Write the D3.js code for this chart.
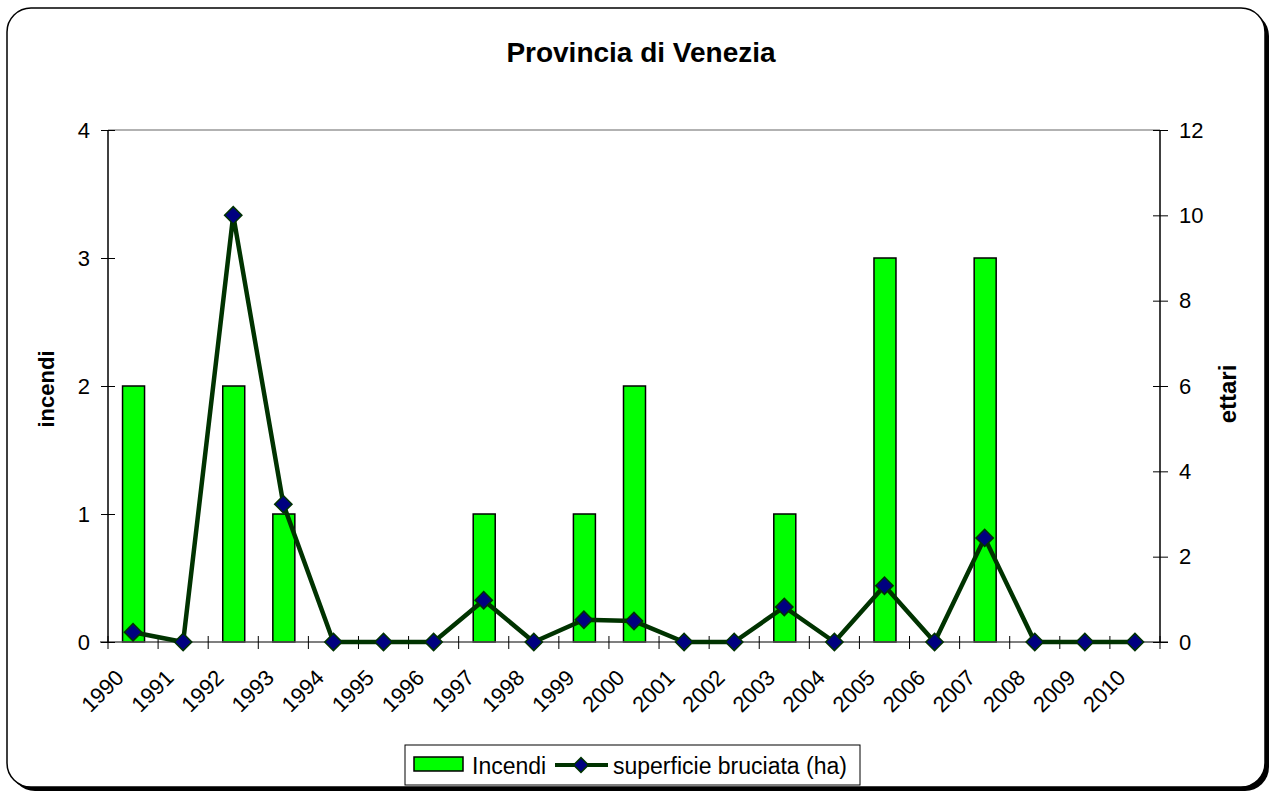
<!DOCTYPE html>
<html><head><meta charset="utf-8">
<script src="https://cdn.jsdelivr.net/npm/d3@7"></script>
<style>body{margin:0;background:#fff}svg{display:block;font-family:"Liberation Sans",Arial,sans-serif}</style>
</head><body><svg id="c" width="1272" height="794"></svg>
<script>
const years = ["1990","1991","1992","1993","1994","1995","1996","1997","1998","1999","2000","2001","2002","2003","2004","2005","2006","2007","2008","2009","2010"];
const incendi = [2,0,2,1,0,0,0,1,0,1,2,0,0,1,0,3,0,3,0,0,0];
const superficie = [0.23,0,10,3.23,0,0,0,0.98,0,0.52,0.49,0,0,0.82,0,1.32,0,2.44,0,0,0];
const leftTicks = [0,1,2,3,4];
const rightTicks = [0,2,4,6,8,10,12];

const svg = d3.select("#c");
const L=108, R=1160, T=130, B=642;

// frame with shadow
svg.append("rect").attr("x",11).attr("y",12).attr("width",1258).attr("height",779).attr("rx",24).attr("fill","#000");
svg.append("rect").attr("x",7).attr("y",8).attr("width",1258).attr("height",779).attr("rx",24).attr("fill","#fff").attr("stroke","#000").attr("stroke-width",1.5);

const x = d3.scaleBand().domain(years).range([L,R]).padding(0);
const yL = d3.scaleLinear().domain([0,4]).range([B,T]);
const yR = d3.scaleLinear().domain([0,12]).range([B,T]);

// top gridline
svg.append("line").attr("x1",L).attr("x2",R).attr("y1",yL(4)).attr("y2",yL(4)).attr("stroke","#999").attr("stroke-width",1.5);

// bars
const bw = 22;
svg.selectAll("rect.bar").data(years.map((y,i)=>({y,v:incendi[i]})).filter(d=>d.v>0)).enter()
 .append("rect").attr("class","bar")
 .attr("x",d=>x(d.y)+x.bandwidth()/2-bw/2+0.5).attr("width",bw)
 .attr("y",d=>yL(d.v)).attr("height",d=>B-yL(d.v))
 .attr("fill","#00ff00").attr("stroke","#000").attr("stroke-width",1.5);

// x axis line
svg.append("line").attr("x1",L-8).attr("x2",R+8).attr("y1",B).attr("y2",B).attr("stroke","#555").attr("stroke-width",1.5);
// x ticks (at band boundaries)
const bounds = years.map(y=>x(y)).concat([R]);
svg.selectAll("line.xt").data(bounds).enter().append("line")
 .attr("x1",d=>d).attr("x2",d=>d).attr("y1",B-6).attr("y2",B+7).attr("stroke","#000").attr("stroke-width",1);

// left axis
const gl = svg.append("g").attr("transform",`translate(${L},0)`).call(d3.axisLeft(yL).tickValues(leftTicks).tickSize(7).tickPadding(10).tickFormat(d3.format("d")));
gl.select(".domain").remove();
gl.append("line").attr("y1",T).attr("y2",B).attr("stroke","#000").attr("stroke-width",1.5);
gl.selectAll(".tick line").attr("x1",7).attr("x2",-7).attr("stroke","#000");
gl.selectAll(".tick text").attr("font-size",22).attr("fill","#000").attr("font-family","Liberation Sans, Arial, sans-serif").attr("x",-18);

// right axis
const gr = svg.append("g").attr("transform",`translate(${R},0)`).call(d3.axisRight(yR).tickValues(rightTicks).tickSize(7).tickPadding(10).tickFormat(d3.format("d")));
gr.select(".domain").remove();
gr.append("line").attr("y1",T).attr("y2",B).attr("stroke","#000").attr("stroke-width",1.5);
gr.selectAll(".tick line").attr("x1",-7).attr("x2",8).attr("stroke","#000");
gr.selectAll(".tick text").attr("font-size",22).attr("fill","#000").attr("font-family","Liberation Sans, Arial, sans-serif").attr("x",19);

// x labels
svg.selectAll("text.xl").data(years).enter().append("text")
 .attr("transform",d=>`translate(${x(d)+x.bandwidth()/2-8},${B+37}) rotate(-45)`)
 .attr("text-anchor","end").attr("font-size",22).text(d=>d);

// line
const pts = years.map((y,i)=>[x(y)+x.bandwidth()/2, yR(superficie[i])]);
svg.append("path").attr("d",d3.line()(pts)).attr("fill","none").attr("stroke","#003300").attr("stroke-width",4.5).attr("stroke-linejoin","round");
svg.selectAll("path.mk").data(pts).enter().append("path")
 .attr("d",d3.symbol().type(d3.symbolSquare).size(150))
 .attr("transform",d=>`translate(${d[0]},${d[1]}) rotate(45)`)
 .attr("fill","#000080").attr("stroke","#003300").attr("stroke-width",1.5);

// title
svg.append("text").attr("x",641).attr("y",62).attr("text-anchor","middle").attr("font-size",28).attr("font-weight","bold").text("Provincia di Venezia");
// axis titles
svg.append("text").attr("transform","translate(54,389) rotate(-90)").attr("text-anchor","middle").attr("font-size",22).attr("font-weight","bold").text("incendi");
svg.append("text").attr("transform","translate(1236,394) rotate(-90)").attr("text-anchor","middle").attr("font-size",24).attr("font-weight","bold").text("ettari");

// legend
const lg = svg.append("g");
lg.append("rect").attr("x",405).attr("y",745).attr("width",455).attr("height",40).attr("fill","#fff").attr("stroke","#000").attr("stroke-width",1);
lg.append("rect").attr("x",414).attr("y",757).attr("width",49).attr("height",14).attr("fill","#00ff00").attr("stroke","#000").attr("stroke-width",1.5);
lg.append("text").attr("x",472).attr("y",774).attr("font-size",23).text("Incendi");
lg.append("line").attr("x1",555).attr("x2",608).attr("y1",765).attr("y2",765).attr("stroke","#003300").attr("stroke-width",4);
lg.append("path").attr("d",d3.symbol().type(d3.symbolSquare).size(110)).attr("transform","translate(581,765) rotate(45)").attr("fill","#000080").attr("stroke","#003300").attr("stroke-width",1.5);
lg.append("text").attr("x",613).attr("y",774).attr("font-size",23).text("superficie bruciata (ha)");
</script></body></html>
